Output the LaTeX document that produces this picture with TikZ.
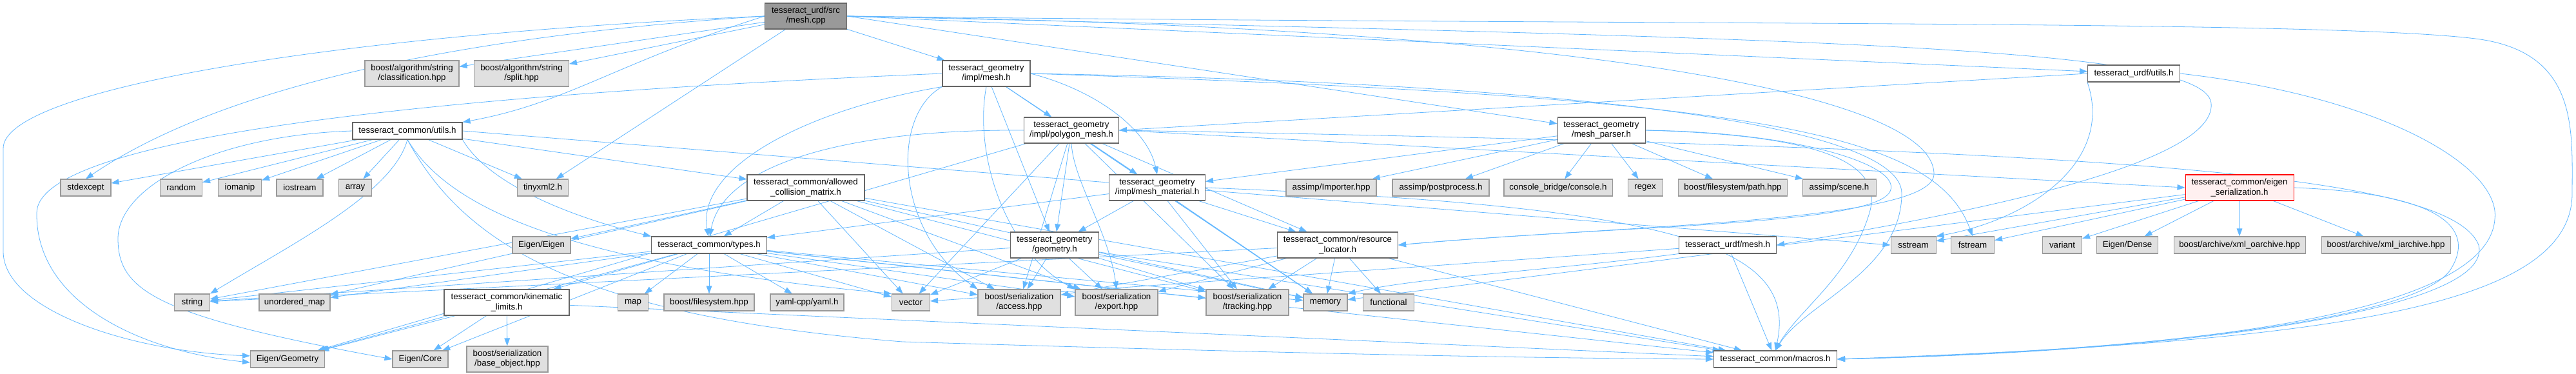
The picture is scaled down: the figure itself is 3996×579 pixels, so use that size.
\documentclass[tikz,border=0pt]{standalone}
\usepackage{fontspec}
\setmainfont{Liberation Sans}
\usetikzlibrary{arrows.meta}
\definecolor{lb}{HTML}{63B8FF}
\definecolor{gfill}{HTML}{E0E0E0}
\definecolor{gline}{HTML}{999999}
\definecolor{wline}{HTML}{666666}
\definecolor{rfill}{HTML}{999999}
\definecolor{efill}{HTML}{FFF0F0}
\pgfdeclarelayer{bg}
\pgfsetlayers{bg,main}
\begin{document}
\begin{tikzpicture}[x=0.75pt,y=-0.75pt,
 base/.style={draw, line width=0.8pt, inner sep=1pt, font=\fontsize{10pt}{11.3pt}\selectfont, align=center, minimum height=19.5pt},
 two/.style={minimum height=30pt},
 bw/.style={minimum width=#1*0.75pt},
 gbox/.style={base, fill=gfill, draw=gline},
 wbox/.style={base, fill=white, draw=wline},
 rbox/.style={base, fill=rfill, draw=wline},
 ebox/.style={base, fill=efill, draw=red},
 dep/.style={draw=lb, line width=0.6pt, -{Triangle[length=9pt,width=6.5pt]}}]
\useasboundingbox (0,0) rectangle (3996,579);
% row 0
\node[rbox, two, bw=127] (cpp) at (1250,25) {tesseract\_urdf/src\\/mesh.cpp};
% row 1
\node[gbox, two, bw=146] (cls) at (639,114) {boost/algorithm/string\\/classification.hpp};
\node[gbox, two, bw=147] (split) at (809,114) {boost/algorithm/string\\/split.hpp};
\node[wbox, two, bw=136] (gmesh) at (1530,114) {tesseract\_geometry\\/impl/mesh.h};
\node[wbox, bw=143] (uutils) at (3310,114) {tesseract\_urdf/utils.h};
% row 2
\node[wbox, bw=170] (cutils) at (632,203) {tesseract\_common/utils.h};
\node[wbox, two, bw=147] (poly) at (1662,202) {tesseract\_geometry\\/impl/polygon\_mesh.h};
\node[wbox, two, bw=136] (parser) at (2484,202) {tesseract\_geometry\\/mesh\_parser.h};
% row 3
\node[gbox, bw=78] (stdexcept) at (133,291) {stdexcept};
\node[gbox, bw=65] (random) at (281,291) {random};
\node[gbox, bw=67] (iomanip) at (372,291) {iomanip};
\node[gbox, bw=72] (iostream) at (465,291) {iostream};
\node[gbox, bw=51] (array) at (551,291) {array};
\node[gbox, bw=79] (tinyxml) at (842,291) {tinyxml2.h};
\node[wbox, two, bw=182] (acm) at (1250,291) {tesseract\_common/allowed\\\_collision\_matrix.h};
\node[wbox, two, bw=149] (mat) at (1795,291) {tesseract\_geometry\\/impl/mesh\_material.h};
\node[gbox, bw=140] (importer) at (2065,291) {assimp/Importer.hpp};
\node[gbox, bw=150] (postproc) at (2235,291) {assimp/postprocess.h};
\node[gbox, bw=168] (console) at (2417,291) {console\_bridge/console.h};
\node[gbox, bw=54] (regex) at (2552,291) {regex};
\node[gbox, bw=169] (fspath) at (2688,291) {boost/filesystem/path.hpp};
\node[gbox, bw=114] (scene) at (2853,291) {assimp/scene.h};
\node[ebox, two, bw=168] (eser) at (3474,291) {tesseract\_common/eigen\\\_serialization.h};
% row 4
\node[gbox, bw=90] (eigen) at (840,380) {Eigen/Eigen};
\node[wbox, bw=179] (types) at (1100,380) {tesseract\_common/types.h};
\node[wbox, two, bw=137] (geom) at (1636,380) {tesseract\_geometry\\/geometry.h};
\node[wbox, two, bw=187] (resloc) at (2075,380) {tesseract\_common/resource\\\_locator.h};
\node[wbox, bw=151] (umesh) at (2680,380) {tesseract\_urdf/mesh.h};
\node[gbox, bw=70] (sstream) at (2968,380) {sstream};
\node[gbox, bw=67] (fstream) at (3060,380) {fstream};
\node[gbox, bw=61] (variant) at (3199,380) {variant};
\node[gbox, bw=95] (dense) at (3300,380) {Eigen/Dense};
\node[gbox, bw=204] (xmlo) at (3474,380) {boost/archive/xml\_oarchive.hpp};
\node[gbox, bw=200] (xmli) at (3701,380) {boost/archive/xml\_iarchive.hpp};
% row 5
\node[gbox, bw=55] (string) at (298,469) {string};
\node[gbox, bw=110] (umap) at (457,469) {unordered\_map};
\node[wbox, two, bw=194] (kin) at (786,469) {tesseract\_common/kinematic\\\_limits.h};
\node[gbox, bw=47] (map) at (982,469) {map};
\node[gbox, bw=140] (bfs) at (1100,469) {boost/filesystem.hpp};
\node[gbox, bw=114] (yaml) at (1252,469) {yaml-cpp/yaml.h};
\node[gbox, bw=59] (vector) at (1413,469) {vector};
\node[gbox, two, bw=128] (access) at (1581,469) {boost/serialization\\/access.hpp};
\node[gbox, two, bw=128] (export) at (1732,469) {boost/serialization\\/export.hpp};
\node[gbox, two, bw=128] (tracking) at (1935,469) {boost/serialization\\/tracking.hpp};
\node[gbox, bw=68] (memory) at (2056,469) {memory};
\node[gbox, bw=79] (functional) at (2154,469) {functional};
% row 6
\node[gbox, bw=115] (egeom) at (446,557) {Eigen/Geometry};
\node[gbox, bw=86] (ecore) at (652,557) {Eigen/Core};
\node[gbox, two, bw=126] (baseobj) at (787,557) {boost/serialization\\/base\_object.hpp};
\node[wbox, bw=191] (macros) at (2754,557) {tesseract\_common/macros.h};

\begin{pgfonlayer}{bg}
\fill[white] (0,0) rectangle (3996,579);
% mesh.cpp
\draw[dep] (cpp) -- (cls);
\draw[dep] (cpp) -- (split);
\draw[dep] (cpp.west) .. controls (650,60) and (320,150) .. (stdexcept.north);
\draw[dep] (cpp.west) .. controls (500,55) and (5,140) .. (5,230) -- (5,390) .. controls (5,480) and (200,545) .. (egeom.175);
\draw[dep] (cpp.west) .. controls (950,100) and (880,160) .. (cutils.north east);
\draw[dep] (cpp) -- (tinyxml);
\draw[dep] (cpp) -- (gmesh);
\draw[dep] (cpp.east) -- (parser);
\draw[dep] (cpp.east) -- (uutils);
\draw[dep] (cpp.east) .. controls (2400,40) and (3000,140) .. (3000,270) .. controls (3000,345) and (2500,350) .. (resloc.east);
\draw[dep] (cpp.east) .. controls (2800,60) and (3420,70) .. (3430,160) .. controls (3440,260) and (3000,340) .. (umesh.east);
\draw[dep] (cpp.east) .. controls (2500,40) and (3600,30) .. (3840,60) .. controls (4000,80) and (3990,200) .. (3990,300) .. controls (3990,480) and (3600,530) .. (macros.east);
% common/utils.h
\draw[dep] (cutils) -- (stdexcept);
\draw[dep] (cutils) -- (random);
\draw[dep] (cutils) -- (iomanip);
\draw[dep] (cutils) -- (iostream);
\draw[dep] (cutils) -- (array);
\draw[dep] (cutils) -- (tinyxml);
\draw[dep] (cutils.south) .. controls (610,300) and (450,380) .. (string.north east);
\draw[dep] (cutils.west) .. controls (330,210) and (183,290) .. (183,370) .. controls (183,450) and (240,490) .. (ecore.west);
\draw[dep] (cutils.south east) .. controls (760,290) and (900,340) .. (types.north west);
\draw[dep] (cutils) -- (acm);
\draw[dep] (cutils.south) .. controls (700,330) and (900,410) .. (vector.north west);
\draw[dep] (cutils.east) -- (sstream.west);
\draw[dep] (cutils.south) .. controls (720,380) and (900,490) .. (1400,530) .. controls (1900,545) and (2300,555) .. (macros.west);
% allowed_collision_matrix.h
\draw[dep] (acm) -- (eigen);
\draw[dep] (acm) -- (string);
\draw[dep] (acm) -- (umap);
\draw[dep] (acm) -- (types);
\draw[dep] (acm) -- (vector);
\draw[dep] (acm) -- (access);
\draw[dep] (acm) -- (export);
\draw[dep] (acm) -- (tracking);
\draw[dep] (acm) -- (memory);
\draw[dep] (acm) -- (macros);
% types.h
\draw[dep] (types) -- (string);
\draw[dep] (types) -- (umap);
\draw[dep] (types) -- (egeom);
\draw[dep] (types) -- (ecore);
\draw[dep] (types) -- (kin);
\draw[dep] (types) -- (map);
\draw[dep] (types) -- (bfs);
\draw[dep] (types) -- (yaml);
\draw[dep] (types) -- (vector);
\draw[dep] (types) -- (access);
\draw[dep] (types) -- (export);
\draw[dep] (types) -- (tracking);
\draw[dep] (types) -- (memory);
\draw[dep] (types) -- (macros);
% kinematic_limits.h
\draw[dep] (kin) -- (egeom);
\draw[dep] (kin) -- (ecore);
\draw[dep] (kin) -- (baseobj);
\draw[dep] (kin) -- (macros);
% impl/mesh.h
\draw[dep] (gmesh) -- (poly);
\draw[dep] (gmesh.east) .. controls (1700,140) and (1780,200) .. (mat.north);
\draw[dep] (gmesh) -- (geom);
\draw[dep] (gmesh.south west) .. controls (1380,180) and (1390,360) .. (access.north west);
\draw[dep] (gmesh.south) .. controls (1510,240) and (1560,390) .. (export.north west);
\draw[dep] (gmesh.south west) .. controls (1250,170) and (1080,260) .. (types.95);
\draw[dep] (gmesh.west) .. controls (600,150) and (58,220) .. (57,330) .. controls (55,470) and (220,545) .. (egeom.185);
\draw[dep] (gmesh) -- (memory);
\draw[dep] (gmesh.east) .. controls (2700,150) and (3000,200) .. (fstream.north);
\draw[dep] (gmesh.east) .. controls (2500,130) and (2950,200) .. (2950,300) .. controls (2950,420) and (2800,470) .. (macros.north);
% polygon_mesh.h
\draw[dep] (poly) -- (geom);
\draw[dep] (poly) -- (mat);
\draw[dep] (poly) -- (access);
\draw[dep] (poly.south) .. controls (1665,280) and (1720,360) .. (export.north);
\draw[dep] (poly) -- (tracking);
\draw[dep] (poly) -- (memory);
\draw[dep] (poly.east) -- (eser.west);
\draw[dep] (poly.west) .. controls (1300,200) and (1120,260) .. (types.85);
\draw[dep] (poly) -- (resloc);
\draw[dep] (poly) -- (egeom);
\draw[dep] (poly) -- (vector);
\draw[dep] (poly.east) .. controls (3300,230) and (3800,270) .. (3845,380) .. controls (3870,480) and (3400,545) .. (macros.east);
% mesh_material.h
\draw[dep] (mat) -- (geom);
\draw[dep] (mat) -- (resloc);
\draw[dep] (mat) -- (types);
\draw[dep] (mat) -- (memory);
\draw[dep] (mat) -- (tracking);
\draw[dep] (mat.east) .. controls (2600,320) and (2790,380) .. (macros.north);
% geometry.h
\draw[dep] (geom) -- (access);
\draw[dep] (geom) -- (export);
\draw[dep] (geom) -- (tracking);
\draw[dep] (geom) -- (vector);
\draw[dep] (geom) -- (memory);
\draw[dep] (geom) -- (macros);
\draw[dep] (geom) -- (string);
% resource_locator.h
\draw[dep] (resloc) -- (memory);
\draw[dep] (resloc) -- (functional);
\draw[dep] (resloc) -- (macros);
\draw[dep] (resloc) -- (tracking);
\draw[dep] (resloc) -- (export);
\draw[dep] (resloc) -- (access);
\draw[dep] (resloc) -- (string);
% mesh_parser.h
\draw[dep] (parser) -- (importer);
\draw[dep] (parser) -- (postproc);
\draw[dep] (parser) -- (console);
\draw[dep] (parser) -- (regex);
\draw[dep] (parser) -- (fspath);
\draw[dep] (parser) -- (scene);
\draw[dep] (parser) -- (mat);
\draw[dep] (parser.east) .. controls (2800,205) and (2960,260) .. (2930,300) .. controls (2890,350) and (2500,350) .. (resloc.east);
\draw[dep] (parser.east) .. controls (2850,210) and (2920,260) .. (2900,330) .. controls (2870,430) and (2790,480) .. (macros.north);
% urdf/mesh.h
\draw[dep] (umesh) -- (macros);
\draw[dep] (umesh.south west) .. controls (2400,420) and (2200,430) .. (memory.north east);
\draw[dep] (umesh) -- (vector);
% urdf/utils.h
\draw[dep] (uutils.west) -- (poly.east);
\draw[dep] (uutils.south west) .. controls (3280,250) and (3150,340) .. (sstream.north east);
\draw[dep] (uutils.east) .. controls (3700,150) and (3880,260) .. (3870,340) .. controls (3860,470) and (3500,540) .. (macros.east);
% eigen_serialization.h
\draw[dep] (eser.east) .. controls (3800,300) and (3840,360) .. (3800,420) .. controls (3740,500) and (3300,545) .. (macros.east);
\draw[dep] (eser) -- (variant);
\draw[dep] (eser) -- (dense);
\draw[dep] (eser) -- (xmlo);
\draw[dep] (eser) -- (xmli);
\draw[dep] (eser) -- (sstream);
\draw[dep] (eser) -- (fstream);
\draw[dep] (eser) -- (memory);
\end{pgfonlayer}
\end{tikzpicture}
\end{document}
